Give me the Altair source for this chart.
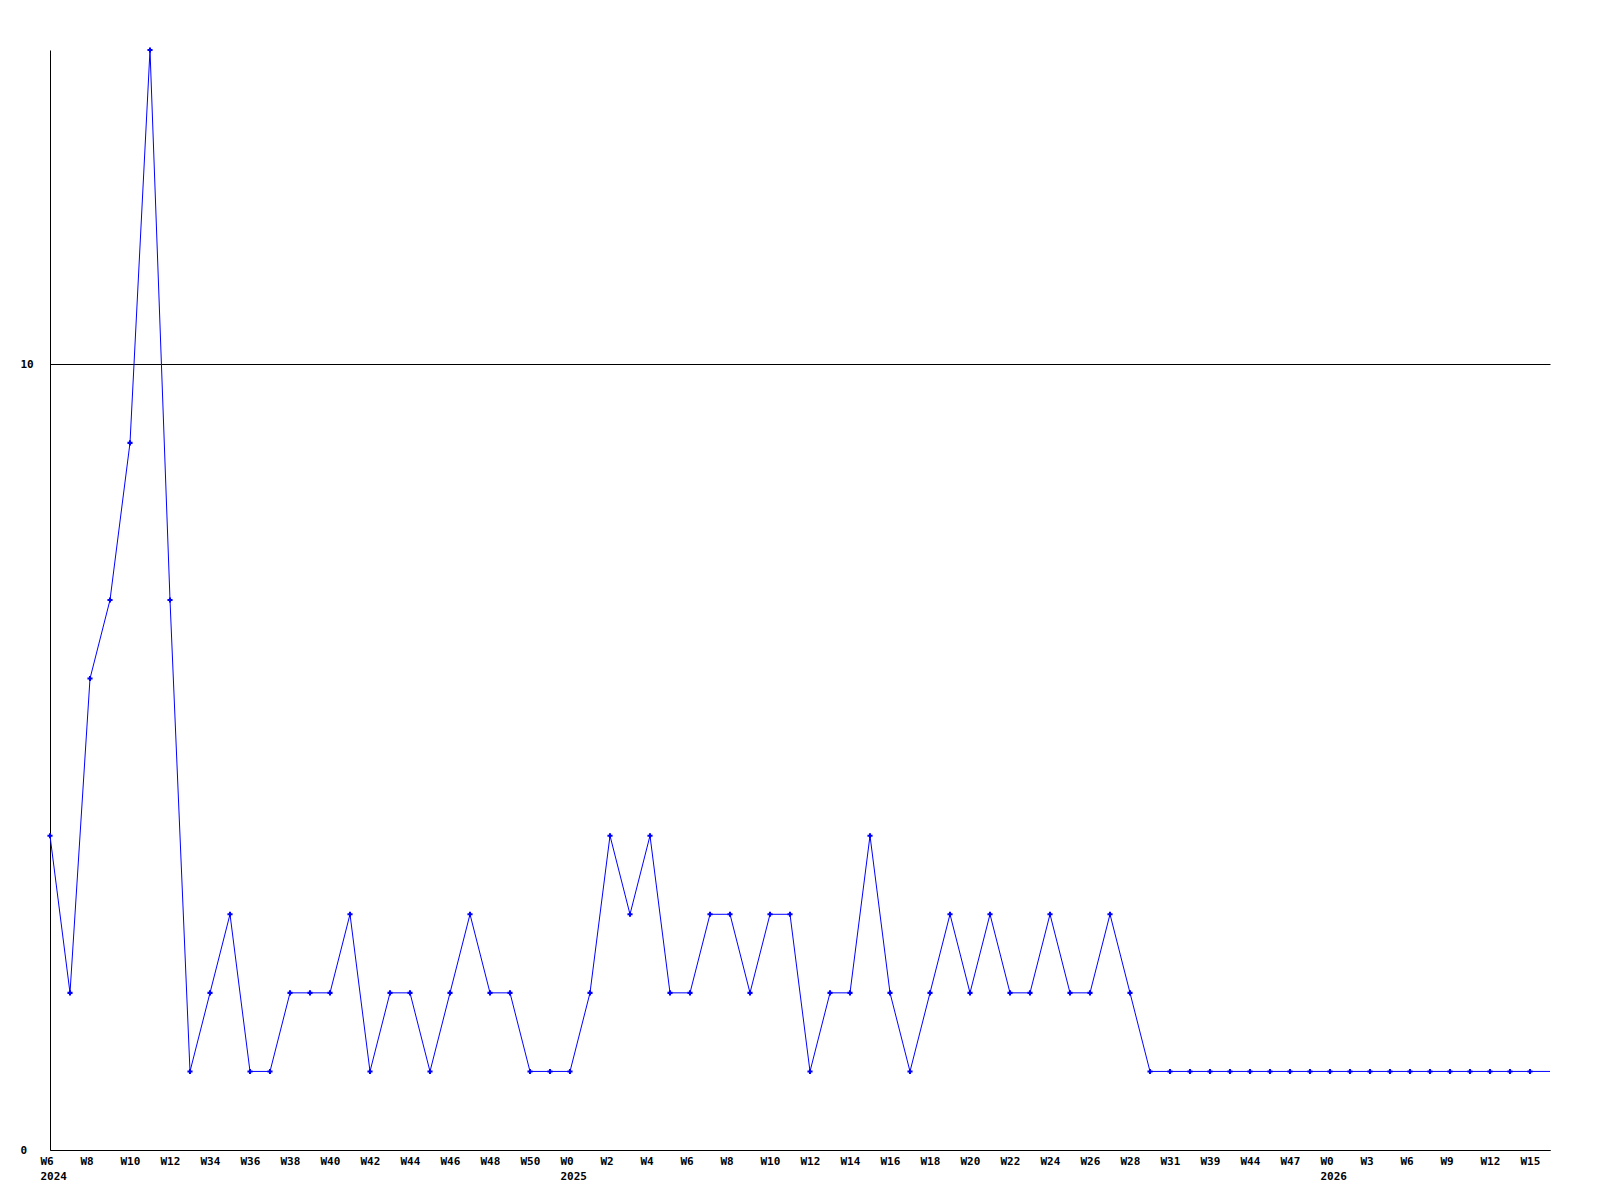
import json
import altair as alt
import pandas as pd

# Weekly counts, one value per week in order (the last one sits on the right edge)
counts = [4, 2, 6, 7, 9, 14, 7, 1, 2, 3, 1, 1, 2, 2, 2, 3, 1, 2, 2, 1,
          2, 3, 2, 2, 1, 1, 1, 2, 4, 3, 4, 2, 2, 3, 3, 2, 3, 3, 1, 2,
          2, 4, 2, 1, 2, 3, 2, 3, 2, 2, 3, 2, 2, 3, 2, 1, 1, 1, 1, 1,
          1, 1, 1, 1, 1, 1, 1, 1, 1, 1, 1, 1, 1, 1, 1, 1]

# Labels shown under every second week
tick_labels = ["W6", "W8", "W10", "W12", "W34", "W36", "W38", "W40", "W42",
               "W44", "W46", "W48", "W50", "W0", "W2", "W4", "W6", "W8",
               "W10", "W12", "W14", "W16", "W18", "W20", "W22", "W24", "W26",
               "W28", "W31", "W39", "W44", "W47", "W0", "W3", "W6", "W9",
               "W12", "W15"]
# Year printed under the first label of each year
tick_years = {0: "2024", 13: "2025", 32: "2026"}

marked_weeks = 75  # weeks that carry a marker

df = pd.DataFrame({"i": list(range(len(counts))), "n": counts})

label_items = []
for k, lab in enumerate(tick_labels):
    if k in tick_years:
        label_items.append([lab, tick_years[k]])
    else:
        label_items.append(lab)
label_expr = json.dumps(label_items).replace('"', "'") + "[datum.value / 2]"

FONT = "DejaVu Sans Mono"
BLUE = "#0000ff"

x = alt.X(
    "i:Q",
    scale=alt.Scale(domain=[0, len(counts) - 1], nice=False, zero=False),
    axis=alt.Axis(
        values=list(range(0, 2 * len(tick_labels), 2)),
        labelExpr=label_expr,
        title=None,
        grid=False,
        ticks=False,
        domainColor="black",
        labelAlign="left",
        labelBaseline="top",
        labelOffset=-10,
        labelPadding=5,
        labelLineHeight=15,
        labelOverlap=False,
        labelFlush=False,
        labelFont=FONT,
        labelFontWeight="bold",
        labelFontSize=11,
        labelColor="black",
    ),
)
y = alt.Y(
    "n:Q",
    scale=alt.Scale(domain=[0, 14], nice=False),
    axis=alt.Axis(
        values=[0, 10],
        title=None,
        grid=True,
        gridColor="black",
        gridOpacity=1,
        ticks=False,
        domainColor="black",
        labelAlign="left",
        labelBaseline="middle",
        labelPadding=30,
        labelFont=FONT,
        labelFontWeight="bold",
        labelFontSize=11,
        labelColor="black",
    ),
)

line = alt.Chart(df).mark_line(color=BLUE, strokeWidth=1).encode(x=x, y=y)
points = (
    alt.Chart(df)
    .transform_filter(alt.datum.i < marked_weeks)
    .mark_point(shape="cross", filled=True, size=26, color=BLUE, opacity=1)
    .encode(x=x, y=y)
)

chart = (
    alt.layer(line, points)
    .properties(
        width=1500,
        height=1100,
        autosize=alt.AutoSizeParams(type="none"),
        padding={"left": 50, "top": 50, "right": 50, "bottom": 50},
        background="white",
    )
    .configure_view(stroke=None)
)

chart.save("out.html", embed_options={"renderer": "svg", "actions": False})
